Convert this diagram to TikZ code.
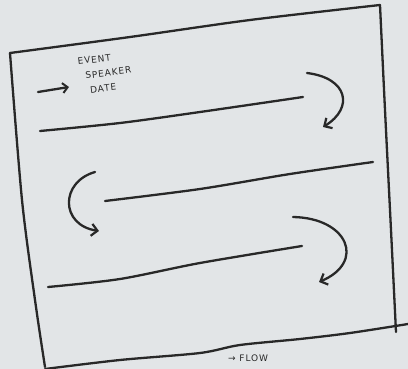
\documentclass[tikz,border=0pt]{standalone}
\usepackage{fontspec}
\setsansfont{DejaVu Sans}[LetterSpace=10]
\usetikzlibrary{arrows.meta}
\definecolor{paper}{RGB}{226,229,231}
\definecolor{ink}{RGB}{40,40,40}
\begin{document}
\begin{tikzpicture}[x=1pt,y=-1pt,
  pen/.style={draw=ink,line width=2.3pt,line cap=round,line join=round},
  curvearrow/.style={pen,-{Straight Barb[length=6pt,width=12pt,line width=2.2pt]}},
  hand/.style={text=ink,font=\sffamily\fontsize{9}{15}\selectfont,rotate=7,inner sep=0pt,align=left}]
\useasboundingbox (0,0) rectangle (408,369);
\fill[paper] (0,0) rectangle (408,369);
\clip (0,0) rectangle (408,369);
% frame
\draw[pen] plot[smooth] coordinates {(10,53) (130,37) (250,20) (380,5)};
\draw[pen] plot[smooth] coordinates {(380,5) (385,110) (391,230) (396,332)};
\draw[pen] plot[smooth] coordinates {(10,53) (22,200) (35,300) (45,367)};
\draw[pen] plot[smooth] coordinates {(45,369) (120,360) (200,353) (240,345) (300,339) (350,333) (408,324)};
% text lines
\draw[pen] plot[smooth] coordinates {(40,131) (120,123) (200,112) (303,97)};
\draw[pen] plot[smooth] coordinates {(105,201) (200,189) (290,174) (373,162)};
\draw[pen] plot[smooth] coordinates {(48,287) (120,279) (200,263) (302,246)};
% small arrow and label
\coordinate (s0) at (38,92);
\coordinate (s1) at (69,87);
\draw[pen,-{Straight Barb[length=5pt,width=10pt,line width=2pt]}] (s0) -- (s1);
\node[hand,anchor=north west] (lbl) at (77,58) {EVENT\\\hspace{6pt}SPEAKER\\\hspace{9pt}DATE};
% curved arrows
\coordinate (a1s) at (307,73);
\coordinate (a1e) at (323,127);
\draw[curvearrow] (a1s) .. controls (348,78) and (354,108) .. (a1e);
\coordinate (a2s) at (95,172);
\coordinate (a2e) at (99,231);
\draw[curvearrow] (a2s) .. controls (60,182) and (60,225) .. (a2e);
\coordinate (a3s) at (293,217);
\coordinate (a3e) at (319,282);
\draw[curvearrow] (a3s) .. controls (348,218) and (366,262) .. (a3e);
% caption
\node[text=ink,font=\sffamily\fontsize{9}{9}\selectfont,anchor=north west,inner sep=0pt] (cap) at (228,355) {→ FLOW};
\end{tikzpicture}
\end{document}
